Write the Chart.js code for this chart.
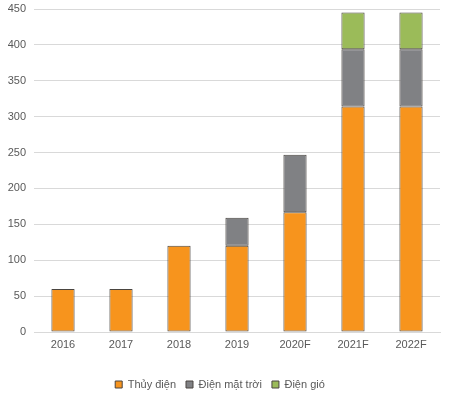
<!DOCTYPE html>
<html>
<head>
<meta charset="utf-8">
<script src="https://cdn.jsdelivr.net/npm/chart.js@4"></script>
<style>
  html, body { margin: 0; padding: 0; background: #fff; }
  #wrap { width: 450px; height: 393px; position: relative; }
</style>
</head>
<body>
<div id="wrap"><canvas id="chart"></canvas></div>
<script>
// Data
const years = ['2016', '2017', '2018', '2019', '2020F', '2021F', '2022F'];
const hydro = [60, 60, 120, 120, 167, 314, 314];
const solar = [null, null, null, 39, 80, 80, 80];
const wind = [null, null, null, null, null, 51, 51];
const yTicks = [0, 50, 100, 150, 200, 250, 300, 350, 400, 450];

const barDs = (label, data, color) => ({
    label: label,
    data: data,
    backgroundColor: color,
    borderColor: '#4a4540',
    borderWidth: 1,
    borderSkipped: false,
    barPercentage: 0.8,
    categoryPercentage: 0.5
});

// push legend a bit lower, like the original
const legendShift = {
    id: 'legendShift',
    afterLayout: chart => {
        chart.legend.top += 7;
        chart.legend.bottom += 7;
    }
};

new Chart(document.getElementById('chart'), {
    type: 'bar',
    data: {
        labels: years,
        datasets: [
            barDs('Thủy điện', hydro, '#f7941d'),
            barDs('Điện mặt trời', solar, '#808184'),
            barDs('Điện gió', wind, '#9bbb59')
        ]
    },
    plugins: [legendShift],
    options: {
        responsive: true,
        maintainAspectRatio: false,
        animation: false,
        layout: { padding: { top: 0, right: 10, left: 0, bottom: 0 } },
        scales: {
            x: {
                stacked: true,
                grid: { display: false },
                border: { color: '#d9d9d9' },
                ticks: { color: '#595959', padding: -2, font: { family: 'Liberation Sans', size: 11 } },
                afterFit: axis => { axis.height = 30; }
            },
            y: {
                stacked: true,
                min: 0,
                max: 450,
                afterBuildTicks: axis => { axis.ticks = yTicks.map(v => ({ value: v })); },
                grid: { color: '#d9d9d9', drawTicks: false },
                border: { display: false },
                ticks: { color: '#595959', padding: 8, font: { family: 'Liberation Sans', size: 11 } },
                afterFit: axis => { axis.width = 34; axis.paddingTop = 9; }
            }
        },
        plugins: {
            legend: {
                position: 'bottom',
                labels: {
                    boxWidth: 7,
                    boxHeight: 7,
                    padding: 10,
                    color: '#595959',
                    font: { family: 'Liberation Sans', size: 11 }
                }
            },
            tooltip: { enabled: false }
        }
    }
});
</script>
</body>
</html>
